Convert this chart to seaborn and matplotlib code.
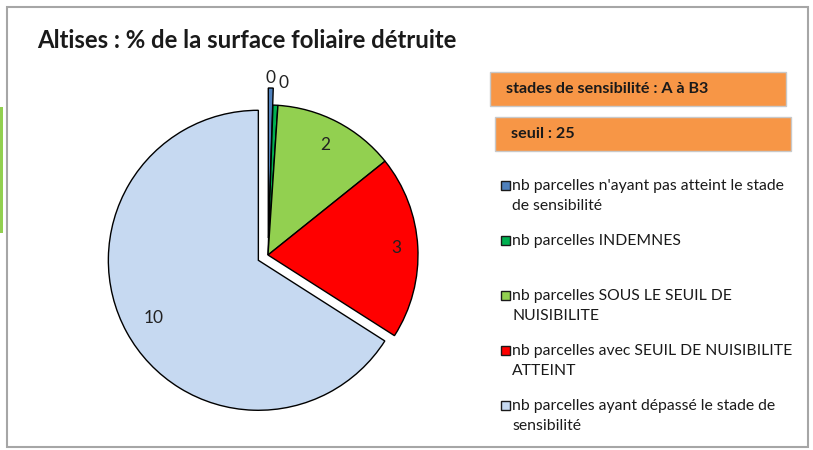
import matplotlib
matplotlib.use("Agg")
import matplotlib.pyplot as plt
import seaborn as sns
import numpy as np
from matplotlib.patches import Rectangle

# Data
categories = [
    "nb parcelles n'ayant pas atteint le stade\nde sensibilité",
    "nb parcelles INDEMNES",
    "nb parcelles SOUS LE SEUIL DE\nNUISIBILITE",
    "nb parcelles avec SEUIL DE NUISIBILITE\nATTEINT",
    "nb parcelles ayant dépassé le stade de\nsensibilité",
]
values = [0.08, 0.08, 2, 3, 10]
colors = ["#4F81BD", "#00B050", "#92D050", "#FF0000", "#C6D9F1"]
title = "Altises : % de la surface foliaire détruite"
info_boxes = ["stades de sensibilité : A à B3", "seuil : 25"]

sns.set_theme(style="white")
plt.rcParams["font.family"] = ["Lato", "DejaVu Sans"]

W, H = 813, 450
R = 150
fig = plt.figure(figsize=(W / 100, H / 100), dpi=100)
ax = fig.add_axes([0, 0, 1, 1])

# pie (y axis is inverted later, so counterclock=True draws clockwise on screen)
explode = [17, 0, 0, 0, 11]  # offsets in pixels
wedges, _ = ax.pie(values, colors=colors, explode=explode, startangle=-90,
                   counterclock=True, radius=R, center=(268, 255),
                   wedgeprops=dict(edgecolor="black", linewidth=1), frame=True)
ax.set_xlim(0, W)
ax.set_ylim(H, 0)
ax.set_aspect("equal")
ax.axis("off")

# chart frame and the little green bar on the left
ax.add_patch(Rectangle((7, 7), 801, 440, fill=False, ec="#A6A6A6", lw=1.5))
ax.add_patch(Rectangle((0, 107), 3, 126, color="#92D050", lw=0))

ax.text(37, 40, title, fontsize=17.2, fontweight="bold", va="center", ha="left", color="#1a1a1a")

label_dist = [1.07, 1.15, 0.83, 0.86, 0.8]
for w, v, d in zip(wedges, values, label_dist):
    ang = np.deg2rad((w.theta1 + w.theta2) / 2)
    cx, cy = w.center
    x = cx + d * R * np.cos(ang)
    y = cy + d * R * np.sin(ang)
    ha = "center"
    if d > 1.1 and d < 1.2:
        ha = "left"
        x += 2
    ax.text(x, y, f"{v:.0f}", fontsize=12.5, ha=ha, va="center", color="#222222")

# orange info boxes
box_pos = [(490, 72), (495, 117)]
for (bx, by), txt in zip(box_pos, info_boxes):
    ax.add_patch(Rectangle((bx, by), 296, 34, fc="#F79646", ec="#C8C8C8", lw=1))
    ax.text(bx + 16, by + 17, txt, fontsize=11.6, fontweight="bold", va="center", ha="left", color="#1a1a1a")

# legend drawn by hand: equal slots, square on the first line
for i, (lab, c) in enumerate(zip(categories, colors)):
    y0 = 186 + i * 55
    ax.add_patch(Rectangle((501, y0 - 5), 9, 9, fc=c, ec="#1a1a1a", lw=1))
    for j, line in enumerate(lab.split("\n")):
        ax.text(512, y0 + j * 20, line, fontsize=11.3, va="center", ha="left", color="#1a1a1a")

fig.savefig("out.png", dpi=100)
